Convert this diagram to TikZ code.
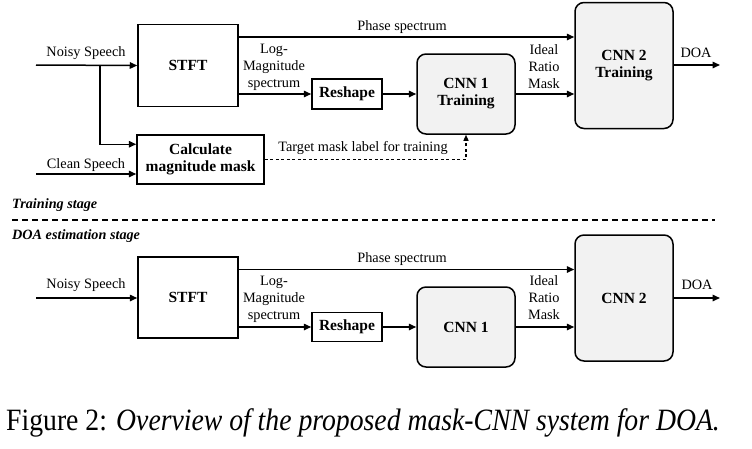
\documentclass[tikz,border=0pt]{standalone}
\usepackage{fontspec}
\setmainfont{Liberation Serif}
\usetikzlibrary{arrows.meta,calc}
\begin{document}
\begin{tikzpicture}[x=1pt,y=-1pt,
  every node/.style={font=\fontsize{14.3}{17}\selectfont, inner sep=0pt},
  blk/.style={draw, line width=1.5pt, font=\fontsize{15.5}{17}\selectfont\bfseries, align=center},
  cnn/.style={blk, rounded corners=9pt, fill=gray!10},
  lbl/.style={align=center},
  stage/.style={anchor=west, font=\fontsize{14.2}{16}\selectfont\bfseries\itshape},
  arr/.style={line width=1.5pt, -{Triangle[length=7.5pt,width=6.5pt]}},
  dotarr/.style={line width=1.2pt, dash pattern=on 3pt off 2.5pt, -{Triangle[length=6pt,width=5pt]}},
  sep/.style={line width=1.8pt, dash pattern=on 6pt off 4pt}
]
\useasboundingbox (0,0) rectangle (752,448);

% ---------- Training stage ----------
\node[blk, minimum width=100pt, minimum height=82pt] (stft1) at (188,65.5) {STFT};
\node[blk, minimum width=127pt, minimum height=49pt] (calc1) at (200.5,159.5) {Calculate\\magnitude mask};
\node[blk, minimum width=70pt, minimum height=30pt] (resh1) at (347,94) {Reshape};
\node[cnn, minimum width=98pt, minimum height=80pt] (cnna1) at (466,94) {CNN 1\\Training};
\node[cnn, minimum width=98pt, minimum height=126pt] (cnnb1) at (624,65.5) {CNN 2\\Training};

\coordinate (ns1) at (36,65);
\coordinate (br1) at (100,65);
\coordinate (cs1) at (36,174);
\coordinate (doa1) at (720,65);
\coordinate (ph1) at (0,37);

\draw[arr] (ns1) -- (stft1.west);
\draw[arr] (br1) |- ([yshift=-10pt]calc1.north west);
\draw[arr] (cs1) -- (cs1 -| calc1.west);
\draw[arr] (stft1.east |- ph1) -- (cnnb1.west |- ph1);
\draw[arr] (stft1.east |- resh1.west) -- (resh1.west);
\draw[arr] (resh1.east) -- (cnna1.west);
\draw[arr] (cnna1.east) -- (cnna1.east -| cnnb1.west);
\draw[arr] (cnnb1.east |- doa1) -- (doa1);
\draw[dotarr] (calc1.east) -| (cnna1.south);

\node[lbl] (l_ns1) at (86,53) {Noisy Speech};
\node[lbl] (l_cs1) at (86,165) {Clean Speech};
\node[lbl] (l_ph1) at (402,27) {Phase spectrum};
\node[lbl] (l_lm1) at (274,67) {Log-\\Magnitude\\spectrum};
\node[lbl] (l_irm1) at (544,67) {Ideal\\Ratio\\Mask};
\node[lbl] (l_doa1) at (696,53) {DOA};
\node[lbl] (l_tm1) at (363,148) {Target mask label for training};
\node[stage] (l_tr) at (12,205) {Training stage};

\draw[sep] (12,220) -- (715,220);

% ---------- DOA estimation stage ----------
\node[stage] (l_de) at (12,236) {DOA estimation stage};

\node[blk, minimum width=100pt, minimum height=81pt] (stft2) at (188,297.5) {STFT};
\node[blk, minimum width=70pt, minimum height=29pt] (resh2) at (347,327) {Reshape};
\node[cnn, minimum width=98pt, minimum height=80pt] (cnna2) at (466,327) {CNN 1};
\node[cnn, minimum width=98pt, minimum height=126pt] (cnnb2) at (624,298) {CNN 2};

\coordinate (ns2) at (36,298);
\coordinate (doa2) at (720,298);
\coordinate (ph2) at (0,269.5);

\draw[arr] (ns2) -- (ns2 -| stft2.west);
\draw[arr] (stft2.east |- ph2) -- (cnnb2.west |- ph2);
\draw[arr] (stft2.east |- resh2.west) -- (resh2.west);
\draw[arr] (resh2.east) -- (cnna2.west);
\draw[arr] (cnna2.east) -- (cnna2.east -| cnnb2.west);
\draw[arr] (cnnb2.east |- doa2) -- (doa2);

\node[lbl] (l_ns2) at (86,285) {Noisy Speech};
\node[lbl] (l_ph2) at (402,259) {Phase spectrum};
\node[lbl] (l_lm2) at (274,299) {Log-\\Magnitude\\spectrum};
\node[lbl] (l_irm2) at (544,298) {Ideal\\Ratio\\Mask};
\node[lbl] (l_doa2) at (697,285) {DOA};

% ---------- Caption ----------
\node[anchor=base west, font=\fontsize{27.7}{32}\selectfont] (cap) at (6,430) {\scalebox{1}[1.12]{Figure 2: \textit{Overview of the proposed mask-CNN system for DOA.}}};
\end{tikzpicture}
\end{document}
